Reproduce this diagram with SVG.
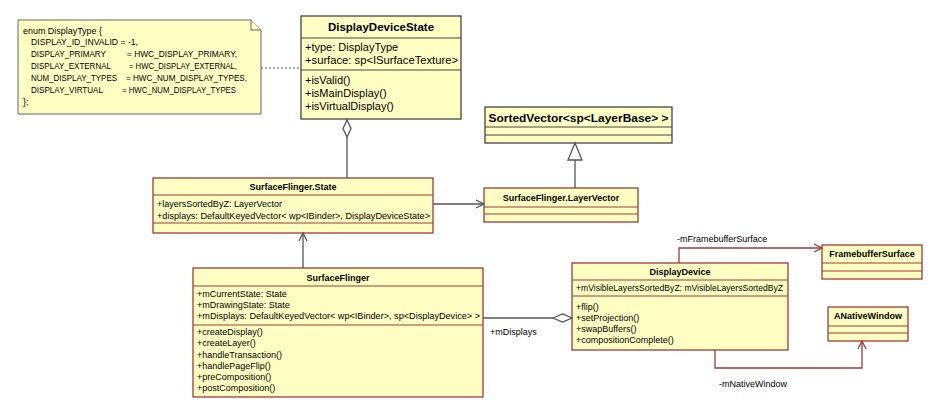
<svg xmlns="http://www.w3.org/2000/svg" width="928" height="412" viewBox="0 0 928 412">
<style>
text{font-family:"Liberation Sans",Arial,sans-serif;font-size:9px;fill:#000}
.b{font-weight:bold}
.big{font-size:11px}
.bigb{font-size:11.5px;font-weight:bold}
.box{fill:#FFFFC4;stroke:#A33A35;stroke-width:1.3}
.gbox{fill:#FFFFC4;stroke:#444;stroke-width:1.3}
.sep{stroke:#A33A35;stroke-width:1.1}
.gsep{stroke:#444;stroke-width:1.1}
.note{fill:#FFFFC4;stroke:#666;stroke-width:1}
.cg{fill:none;stroke:#555;stroke-width:1.3}
.cr{fill:none;stroke:#A33A35;stroke-width:1.3}
.wh{fill:#fff}
</style>
<rect width="928" height="412" fill="#fff"/>

<g id="note">
<path class="note" d="M18,20 H251 L261,30 V114 H18 Z"/>
<path class="note" d="M251,20 V30 H261" fill="none"/>
<text x="23" y="34" textLength="79" lengthAdjust="spacingAndGlyphs">enum DisplayType {</text>
<text x="31" y="45" textLength="107" lengthAdjust="spacingAndGlyphs">DISPLAY_ID_INVALID = -1,</text>
<text x="31" y="57" textLength="75" lengthAdjust="spacingAndGlyphs">DISPLAY_PRIMARY</text>
<text x="127" y="57" textLength="110" lengthAdjust="spacingAndGlyphs">= HWC_DISPLAY_PRIMARY,</text>
<text x="31" y="69" textLength="80" lengthAdjust="spacingAndGlyphs">DISPLAY_EXTERNAL</text>
<text x="129" y="69" textLength="108" lengthAdjust="spacingAndGlyphs">= HWC_DISPLAY_EXTERNAL,</text>
<text x="31" y="81" textLength="86" lengthAdjust="spacingAndGlyphs">NUM_DISPLAY_TYPES</text>
<text x="126" y="81" textLength="121" lengthAdjust="spacingAndGlyphs">= HWC_NUM_DISPLAY_TYPES,</text>
<text x="31" y="93" textLength="72" lengthAdjust="spacingAndGlyphs">DISPLAY_VIRTUAL</text>
<text x="122" y="93" textLength="114" lengthAdjust="spacingAndGlyphs">= HWC_NUM_DISPLAY_TYPES</text>
<text x="23" y="105">};</text>
</g>

<g id="DisplayDeviceState">
<rect class="gbox" x="301" y="16" width="160" height="103"/>
<line class="gsep" x1="301" y1="38" x2="461" y2="38"/>
<line class="gsep" x1="301" y1="70" x2="461" y2="70"/>
<text class="bigb" x="381" y="31" text-anchor="middle">DisplayDeviceState</text>
<text class="big" x="305" y="51">+type: DisplayType</text>
<text class="big" x="305" y="64" textLength="153" lengthAdjust="spacingAndGlyphs">+surface: sp&lt;ISurfaceTexture&gt;</text>
<text class="big" x="305" y="84">+isValid()</text>
<text class="big" x="305" y="97">+isMainDisplay()</text>
<text class="big" x="305" y="110">+isVirtualDisplay()</text>
</g>

<g id="SortedVector">
<rect class="gbox" x="485" y="107" width="187" height="36"/>
<line class="gsep" x1="485" y1="127" x2="672" y2="127"/>
<line class="gsep" x1="485" y1="135" x2="672" y2="135"/>
<text class="bigb" x="578.5" y="122" text-anchor="middle" textLength="180" lengthAdjust="spacingAndGlyphs">SortedVector&lt;sp&lt;LayerBase&gt; &gt;</text>
</g>

<g id="SurfaceFlingerState">
<rect class="box" x="153" y="178" width="280" height="55"/>
<line class="sep" x1="153" y1="195" x2="433" y2="195"/>
<line class="sep" x1="153" y1="223" x2="433" y2="223"/>
<text class="b" x="293" y="190" text-anchor="middle">SurfaceFlinger.State</text>
<text x="157" y="207" textLength="125" lengthAdjust="spacingAndGlyphs">+layersSortedByZ: LayerVector</text>
<text x="157" y="219" textLength="273" lengthAdjust="spacingAndGlyphs">+displays: DefaultKeyedVector&lt; wp&lt;IBinder&gt;, DisplayDeviceState&gt;</text>
</g>

<g id="LayerVector">
<rect class="box" x="484" y="188" width="154" height="34"/>
<line class="sep" x1="484" y1="207" x2="638" y2="207"/>
<line class="sep" x1="484" y1="214" x2="638" y2="214"/>
<text class="b" x="561" y="201" text-anchor="middle">SurfaceFlinger.LayerVector</text>
</g>

<g id="SurfaceFlinger">
<rect class="box" x="193" y="268" width="290" height="129"/>
<line class="sep" x1="193" y1="286" x2="483" y2="286"/>
<line class="sep" x1="193" y1="325" x2="483" y2="325"/>
<text class="b" x="338" y="281" text-anchor="middle">SurfaceFlinger</text>
<text x="197" y="297">+mCurrentState: State</text>
<text x="197" y="308">+mDrawingState: State</text>
<text x="197" y="319" textLength="283" lengthAdjust="spacingAndGlyphs">+mDisplays: DefaultKeyedVector&lt; wp&lt;IBinder&gt;, sp&lt;DisplayDevice&gt; &gt;</text>
<text x="197" y="335">+createDisplay()</text>
<text x="197" y="346">+createLayer()</text>
<text x="197" y="357.5">+handleTransaction()</text>
<text x="197" y="368.5">+handlePageFlip()</text>
<text x="197" y="380">+preComposition()</text>
<text x="197" y="391">+postComposition()</text>
</g>

<g id="DisplayDevice">
<rect class="box" x="572" y="263" width="216" height="87"/>
<line class="sep" x1="572" y1="280" x2="788" y2="280"/>
<line class="sep" x1="572" y1="296" x2="788" y2="296"/>
<text class="b" x="680" y="275" text-anchor="middle">DisplayDevice</text>
<text x="576" y="291" textLength="207" lengthAdjust="spacingAndGlyphs">+mVisibleLayersSortedByZ: mVisibleLayersSortedByZ</text>
<text x="576" y="310">+flip()</text>
<text x="576" y="321">+setProjection()</text>
<text x="576" y="332">+swapBuffers()</text>
<text x="576" y="343">+compositionComplete()</text>
</g>

<g id="FramebufferSurface">
<rect class="box" x="822" y="245" width="100" height="34"/>
<line class="sep" x1="822" y1="263" x2="922" y2="263"/>
<line class="sep" x1="822" y1="271" x2="922" y2="271"/>
<text class="b" x="872" y="257" text-anchor="middle">FramebufferSurface</text>
</g>

<g id="ANativeWindow">
<rect class="box" x="828" y="307" width="80" height="34"/>
<line class="sep" x1="828" y1="326" x2="908" y2="326"/>
<line class="sep" x1="828" y1="333" x2="908" y2="333"/>
<text class="b" x="868" y="319" text-anchor="middle">ANativeWindow</text>
</g>

<g id="connectors">
<line x1="261" y1="68" x2="301" y2="68" stroke="#555" stroke-width="1.2" stroke-dasharray="2,2"/>
<line class="cg" x1="347" y1="137" x2="347" y2="178"/>
<path class="cg wh" d="M347,120 L351,128.5 L347,137 L343,128.5 Z"/>
<line class="cg" x1="575" y1="160" x2="575" y2="188"/>
<path class="cg wh" d="M575,143 L582,160 L568,160 Z"/>
<line class="cg" x1="433" y1="204" x2="484" y2="204"/>
<path class="cg" d="M476,200 L484,204 L476,208"/>
<line class="cg" x1="303" y1="268" x2="303" y2="233"/>
<path class="cg" d="M299,241 L303,233 L307,241"/>
<line class="cg" x1="483" y1="318" x2="553" y2="318"/>
<path class="cg wh" d="M553,318 L562.5,314 L572,318 L562.5,322 Z"/>
<text x="490" y="335">+mDisplays</text>
<polyline class="cr" points="679,263 679,248 822,248"/>
<path class="cr" d="M814,244 L822,248 L814,252"/>
<text x="677" y="242">-mFramebufferSurface</text>
<polyline class="cr" points="715,350 715,368 862,368 862,341"/>
<path class="cr" d="M858,349 L862,341 L866,349"/>
<text x="719" y="387">-mNativeWindow</text>
</g>
</svg>
